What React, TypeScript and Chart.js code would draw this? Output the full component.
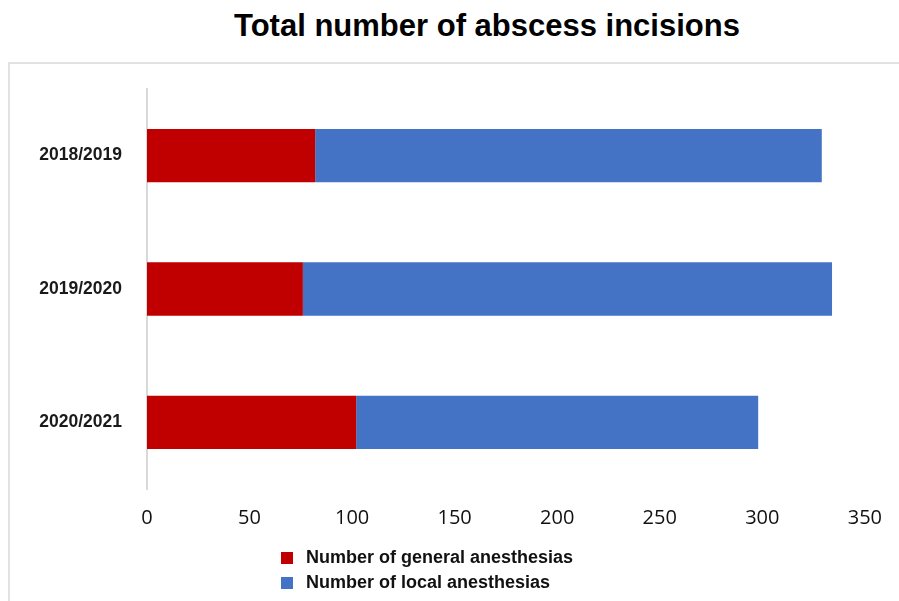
import React, { useEffect, useRef } from "react";
import { Chart, registerables } from "chart.js";

Chart.register(...registerables);

const TITLE = "Total number of abscess incisions";
const categories = ["2018/2019", "2019/2020", "2020/2021"];
const generalAnesthesia = [82, 76, 102];
const localAnesthesia = [247, 258, 196];
const xTicks = [0, 50, 100, 150, 200, 250, 300, 350];
const seriesNames = ["Number of general anesthesias", "Number of local anesthesias"];
const seriesColors = ["#C00000", "#4472C4"];

export default function App() {
  const canvasRef = useRef<HTMLCanvasElement | null>(null);

  useEffect(() => {
    document.body.style.margin = "0";
    const ctx = canvasRef.current;
    if (!ctx) return;
    const chart = new Chart(ctx, {
      type: "bar",
      data: {
        labels: categories,
        datasets: [
          {
            label: seriesNames[0],
            data: generalAnesthesia,
            backgroundColor: seriesColors[0],
            borderWidth: 0,
            categoryPercentage: 1,
            barPercentage: 0.4,
          },
          {
            label: seriesNames[1],
            data: localAnesthesia,
            backgroundColor: seriesColors[1],
            borderWidth: 0,
            categoryPercentage: 1,
            barPercentage: 0.4,
          },
        ],
      },
      options: {
        indexAxis: "y",
        animation: false,
        responsive: false,
        maintainAspectRatio: false,
        layout: { padding: { top: 89, right: 30, bottom: 72, left: 0 } },
        plugins: {
          legend: { display: false },
          title: { display: false },
          tooltip: { enabled: false },
        },
        scales: {
          x: {
            stacked: true,
            min: 0,
            max: 350,
            afterBuildTicks: (axis: any) => {
              axis.ticks = xTicks.map((v) => ({ value: v }));
            },
            afterFit: (axis: any) => {
              axis.height = 40;
            },
            grid: { display: false, drawTicks: false },
            border: { display: false },
            ticks: {
              padding: 17,
              color: "#111",
              font: { family: '"Open Sans", sans-serif', size: 20 },
              maxRotation: 0,
              autoSkip: false,
            },
          },
          y: {
            stacked: true,
            afterFit: (axis: any) => {
              axis.width = 147;
            },
            grid: { display: false, drawTicks: false },
            border: { display: true, color: "#d9d9d9", width: 2 },
            ticks: {
              padding: 25,
              color: "#1a1a1a",
              font: { family: '"Liberation Sans", Arial, sans-serif', size: 17.5, weight: "bold" },
            },
          },
        },
      },
    });
    return () => chart.destroy();
  }, []);

  return (
    <div style={{ position: "fixed", left: 0, top: 0, width: 899, height: 601, background: "#fff", overflow: "hidden" }}>
      <div
        style={{
          position: "absolute",
          left: 8,
          top: 62,
          width: 900,
          height: 560,
          borderLeft: "2px solid #e2e2e2",
          borderTop: "2px solid #e2e2e2",
        }}
      />
      <div
        style={{
          position: "absolute",
          left: 0,
          top: 6,
          width: 974,
          textAlign: "center",
          fontFamily: '"Liberation Sans", Arial, sans-serif',
          fontWeight: "bold",
          fontSize: 31,
          lineHeight: "40px",
          color: "#000",
        }}
      >
        {TITLE}
      </div>
      <canvas ref={canvasRef} width={899} height={601} style={{ position: "absolute", left: 0, top: 0, width: 899, height: 601 }} />
      <div
        style={{
          position: "absolute",
          left: 281,
          top: 545,
          fontFamily: '"Liberation Sans", Arial, sans-serif',
          fontWeight: "bold",
          fontSize: 18,
          color: "#111",
        }}
      >
        {seriesNames.map((name, i) => (
          <div key={name} style={{ display: "flex", alignItems: "center", height: 25 }}>
            <span style={{ display: "inline-block", width: 12, height: 12, background: seriesColors[i], marginRight: 13 }} />
            <span style={{ lineHeight: "25px" }}>{name}</span>
          </div>
        ))}
      </div>
    </div>
  );
}
